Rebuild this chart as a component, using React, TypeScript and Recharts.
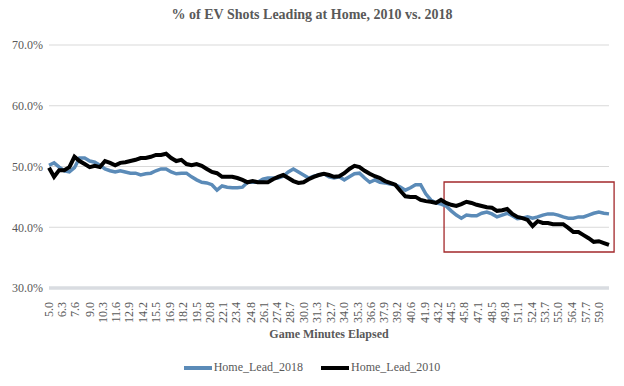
import React from "react"
import { CartesianGrid, Line, LineChart, ReferenceArea, XAxis, YAxis } from "recharts"

// minutes 5.0 -> 60.0, one reading every half minute
const START_MINUTE = 5
const STEP = 0.5

const homeLead2018 = [
  50.2, 50.6, 49.9, 49.3, 49.1, 49.8, 51.4, 51.4, 50.9, 50.7,
  50.2, 49.6, 49.3, 49.1, 49.3, 49.1, 48.9, 48.9, 48.6, 48.8,
  48.9, 49.3, 49.6, 49.6, 49.1, 48.8, 48.9, 48.9, 48.3, 47.8,
  47.4, 47.3, 47.0, 46.1, 46.8, 46.6, 46.5, 46.5, 46.6, 47.4,
  47.4, 47.4, 47.9, 48.1, 48.1, 48.1, 48.4, 49.1, 49.6, 49.1,
  48.6, 48.1, 48.4, 48.6, 48.8, 48.3, 48.1, 48.3, 47.8, 48.3,
  48.8, 48.9, 48.1, 47.4, 47.8, 47.4, 47.3, 47.1, 47.0, 46.6,
  46.1, 46.5, 47.0, 47.0, 45.5, 44.5, 44.0, 43.8, 43.5, 42.7,
  42.0, 41.5, 42.0, 41.9, 41.9, 42.3, 42.5, 42.2, 41.7, 42.0,
  42.3, 41.9, 41.4, 41.5, 41.7, 41.5, 41.7, 42.0, 42.2, 42.2,
  42.0, 41.7, 41.5, 41.5, 41.7, 41.7, 42.0, 42.3, 42.5, 42.3,
  42.2,
]

const homeLead2010 = [
  49.8, 48.3, 49.4, 49.4, 49.9, 51.6, 50.9, 50.4, 49.9, 50.1,
  49.9, 50.9, 50.6, 50.2, 50.6, 50.7, 50.9, 51.1, 51.4, 51.4,
  51.6, 51.9, 51.9, 52.1, 51.4, 50.9, 51.1, 50.4, 50.2, 50.4,
  50.1, 49.6, 49.1, 48.9, 48.3, 48.3, 48.3, 48.1, 47.8, 47.4,
  47.6, 47.4, 47.4, 47.4, 47.9, 48.3, 48.6, 48.1, 47.6, 47.3,
  47.4, 47.9, 48.3, 48.6, 48.8, 48.6, 48.3, 48.4, 48.9, 49.6,
  50.1, 49.9, 49.3, 48.8, 48.4, 48.1, 47.6, 47.3, 47.0, 46.0,
  45.1, 45.0, 45.0, 44.5, 44.3, 44.2, 44.0, 44.5, 44.0, 43.7,
  43.5, 43.8, 44.2, 44.0, 43.7, 43.5, 43.3, 43.2, 42.7, 42.8,
  43.0, 42.2, 41.7, 41.5, 41.2, 40.2, 41.0, 40.7, 40.7, 40.5,
  40.5, 40.5, 39.9, 39.2, 39.2, 38.7, 38.2, 37.6, 37.7, 37.4,
  37.1,
]

const xTickLabels = [
  "5.0", "6.3", "7.6", "9.0", "10.3", "11.6", "12.9", "14.2", "15.5", "16.9",
  "18.2", "19.5", "20.8", "22.1", "23.4", "24.8", "26.1", "27.4", "28.7", "30.0",
  "31.3", "32.7", "34.0", "35.3", "36.6", "37.9", "39.2", "40.6", "41.9", "43.2",
  "44.5", "45.8", "47.1", "48.5", "49.8", "51.1", "52.4", "53.7", "55.0", "56.4",
  "57.7", "59.0",
]

const yTicks = [30, 40, 50, 60, 70]

// red box drawn around the last stretch of the game
const highlight = { x1: 43.8, x2: 60.5, y1: 35.93, y2: 47.45 }

const series = [
  { key: "Home_Lead_2018", color: "#5B8BB8", width: 3.5 },
  { key: "Home_Lead_2010", color: "#000000", width: 4 },
]

const chartData = homeLead2018.map((v, i) => ({
  minute: START_MINUTE + i * STEP,
  Home_Lead_2018: v,
  Home_Lead_2010: homeLead2010[i],
}))

const FONT = "'Liberation Serif', 'Times New Roman', serif"
const TEXT_COLOR = "#595959"

function MinuteTick({ x, y, payload }: any) {
  return (
    <text
      transform={`translate(${x},${y + 6}) rotate(-90)`}
      textAnchor="end"
      dominantBaseline="central"
      fontSize={12}
      style={{ fontFamily: FONT }}
      fill={TEXT_COLOR}
    >
      {Number(payload.value).toFixed(1)}
    </text>
  )
}

export default function App() {
  return (
    <div
      style={{
        position: "absolute",
        left: 0,
        top: 0,
        width: 624,
        height: 386,
        background: "#fff",
        fontFamily: FONT,
      }}
    >
      <div
        style={{
          position: "absolute",
          top: 7,
          width: 624,
          textAlign: "center",
          fontWeight: "bold",
          fontSize: 14,
          color: TEXT_COLOR,
        }}
      >
        % of EV Shots Leading at Home, 2010 vs. 2018
      </div>

      <LineChart
        width={624}
        height={386}
        data={chartData}
        margin={{ top: 45, right: 15, bottom: 58, left: 0 }}
        style={{ fontFamily: FONT }}
      >
        <CartesianGrid vertical={false} stroke="#D9D9D9" />
        <XAxis
          dataKey="minute"
          type="number"
          domain={[5, 60]}
          ticks={xTickLabels.map(Number)}
          interval={0}
          tick={<MinuteTick />}
          tickLine={false}
          axisLine={{ stroke: "#D9DCE1", strokeWidth: 3.5 }}
          height={40}
        />
        <YAxis
          type="number"
          domain={[30, 70]}
          ticks={yTicks}
          tickFormatter={(v) => `${Number(v).toFixed(1)}%`}
          tick={{ fontSize: 12, fill: TEXT_COLOR, style: { fontFamily: FONT } }}
          tickLine={false}
          axisLine={false}
          tickSize={4}
          width={49}
        />
        {series.map((s) => (
          <Line
            key={s.key}
            dataKey={s.key}
            type="linear"
            stroke={s.color}
            strokeWidth={s.width}
            dot={false}
            isAnimationActive={false}
          />
        ))}
        <ReferenceArea
          x1={highlight.x1}
          x2={highlight.x2}
          y1={highlight.y1}
          y2={highlight.y2}
          fill="none"
          stroke="#A3282B"
          strokeWidth={1.3}
          ifOverflow="visible"
        />
      </LineChart>

      <div
        style={{
          position: "absolute",
          top: 327,
          left: 49,
          width: 560,
          textAlign: "center",
          fontWeight: "bold",
          fontSize: 12,
          color: TEXT_COLOR,
        }}
      >
        Game Minutes Elapsed
      </div>

      <div
        style={{
          position: "absolute",
          top: 360,
          left: 0,
          width: 624,
          display: "flex",
          justifyContent: "center",
          gap: 18,
          fontSize: 12,
          color: TEXT_COLOR,
        }}
      >
        {series.map((s) => (
          <div key={s.key} style={{ display: "flex", alignItems: "center" }}>
            <span
              style={{
                display: "inline-block",
                width: 28,
                height: 4,
                background: s.color,
                marginRight: 2,
              }}
            />
            <span>{s.key}</span>
          </div>
        ))}
      </div>
    </div>
  )
}
